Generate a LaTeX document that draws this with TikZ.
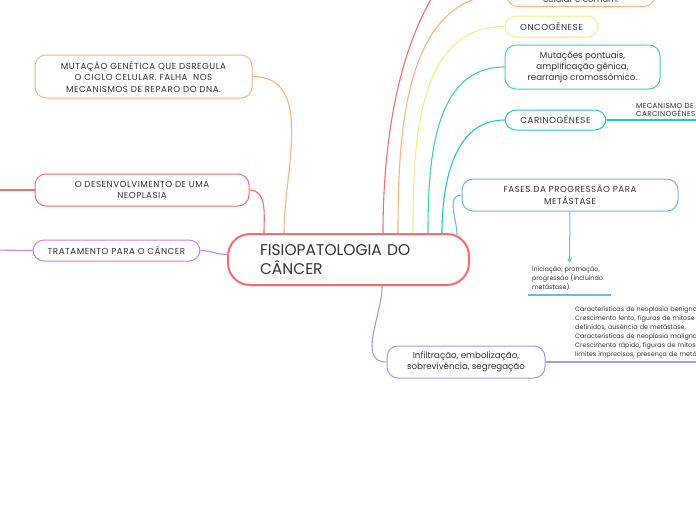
\documentclass[tikz,border=0pt]{standalone}
\usepackage{fontspec}
\setmainfont{Poppins}
\usetikzlibrary{arrows.meta}
\definecolor{Ink}{HTML}{333333}
\definecolor{Coral}{HTML}{FF6B6B}
\definecolor{Apricot}{HTML}{FFB27D}
\definecolor{Lemon}{HTML}{F8EC7E}
\definecolor{Mint}{HTML}{3ED8A4}
\definecolor{Aqua}{HTML}{1CC8D6}
\definecolor{Sky}{HTML}{6CB6F8}
\definecolor{Orchid}{HTML}{C682EE}
\definecolor{Lavender}{HTML}{A298F6}
\tikzset{
  core/.style={
    draw=Coral, line width=2pt, rounded corners=22pt, fill=white,
    text width=177pt, inner xsep=32pt, minimum height=51pt, align=left,
    text=Ink, font=\fontsize{15.5}{18.5}\selectfont
  },
  branch/.style={
    draw, line width=1pt, rounded corners=11pt, fill=white, align=center,
    inner sep=0pt, text=Ink,
    font=\fontsize{8.7}{11.5}\selectfont\addfontfeature{LetterSpace=6}
  },
  plain/.style={font=\fontsize{8.7}{11}\selectfont},
  leaf/.style={
    align=left, inner sep=0pt, text=Ink, font=\fontsize{6.4}{9}\selectfont
  },
  link/.style={line width=1.1pt},
  tip/.style={-{Triangle[length=4pt,width=4.5pt]}, line width=1pt}
}
\begin{document}
\begin{tikzpicture}[x=1pt,y=-1pt]
  \useasboundingbox[fill=white] (0,0) rectangle (696,520);
  % main topic
  \node[core] (core) at (348.5,259.5) {FISIOPATOLOGIA DO\\CÂNCER};
  % left side
  \node[branch,draw=Apricot,minimum width=217pt,minimum height=43pt] (mutacao) at (143.5,76.5)
    {MUTAÇÃO GENÉTICA QUE DSREGULA\\O CICLO CELULAR. FALHA~ NOS\\ MECANISMOS DE REPARO DO DNA.};
  \node[branch,draw=Coral,minimum width=214pt,minimum height=32pt] (neoplasia) at (142,190)
    {O DESENVOLVIMENTO DE UMA\\NEOPLASIA};
  \node[branch,draw=Orchid,minimum width=167pt,minimum height=21pt] (tratamento) at (116.5,250.5)
    {TRATAMENTO PARA O CÂNCER};
  \coordinate (neoend) at (-10,190);
  \coordinate (tratend) at (-10,250);
  % right side
  \coordinate (redend) at (560,-80);
  \node[branch,plain,draw=Apricot,minimum width=148pt,inner ysep=4pt,anchor=south] (celular) at (581,7)
    {Proliferação\\celular é comum.};
  \node[branch,draw=Lemon,minimum width=93pt,minimum height=21pt] (onco) at (551.5,26.5)
    {ONCOGÊNESE};
  \node[branch,plain,draw=Mint,minimum width=155pt,minimum height=44pt] (pontuais) at (582.5,67)
    {Mutações pontuais,\\amplificação gênica,\\rearranjo cromossômico.};
  \node[branch,draw=Aqua,minimum width=101pt,minimum height=20pt] (carino) at (555.5,120)
    {CARINOGÊNESE};
  \coordinate (carinoend) at (700,120);
  \node[leaf,anchor=south west,inner ysep=2pt,
    font=\fontsize{7.2}{8.5}\selectfont\addfontfeature{LetterSpace=5}] (mecanismo) at (636,119)
    {MECANISMO DE\\CARCINOGÊNESE};
  \node[branch,draw=Sky,minimum width=216pt,minimum height=32pt] (fases) at (570,195)
    {FASES DA PROGRESSÃO PARA\\METÁSTASE};
  \node[leaf,text width=75pt,inner xsep=4pt,inner ysep=4pt,anchor=south] (etapas) at (569.5,295)
    {Iniciação, promoção,\\progressão (incluindo\\metástase).};
  \node[branch,plain,draw=Lavender,minimum width=158pt,minimum height=32pt] (infiltra) at (466,362)
    {Infiltração, embolização,\\sobrevivência, segregação};
  \node[leaf,text width=220pt,inner xsep=10pt,inner ysep=4pt,anchor=south west] (neoplasias) at (565,362)
    {Características de neoplasia benigna:\\
     Crescimento lento, figuras de mitose raras, limites bem\\
     definidos, ausência de metástase.\\
     Características de neoplasia maligna:\\
     Crescimento rápido, figuras de mitose frequentes,\\
     limites imprecisos, presença de metástase.};
  % connectors
  \draw[link,Apricot] ([xshift=-64.5pt]core.north) to[out=90,in=0] (mutacao.east);
  \draw[link,Coral] ([xshift=-84.5pt]core.north) to[out=90,in=0] (neoplasia.east);
  \draw[link,Coral] (neoplasia.west) -- (neoend);
  \draw[link,Orchid] ([yshift=5pt]core.west) to[out=180,in=0] (tratamento.east);
  \draw[link,Orchid] (tratamento.west) -- (tratend);
  \draw[link,Coral] ([xshift=34.5pt]core.north) to[out=90,in=180] (redend);
  \draw[link,Apricot] ([xshift=49.5pt]core.north) to[out=90,in=180] (celular.west);
  \draw[link,Lemon] ([xshift=64.5pt]core.north) to[out=90,in=180] (onco.west);
  \draw[link,Mint] ([xshift=79.5pt]core.north) to[out=90,in=180] (pontuais.west);
  \draw[link,Aqua] ([xshift=93.5pt]core.north) to[out=90,in=180] (carino.west);
  \draw[link,Aqua] (carino.east) -- (carinoend);
  \draw[link,Sky] ([xshift=108.5pt,yshift=-2pt]core.north) to[out=90,in=180] (fases.west);
  \draw[tip,Sky] (fases.south) -- (etapas.north);
  \draw[link,Sky] (etapas.south west) -- (etapas.south east);
  \draw[link,Lavender] ([xshift=33.5pt]core.south) to[out=270,in=180] (infiltra.west);
  \draw[link,Lavender] (infiltra.east) -- (neoplasias.south west) -- (neoplasias.south east);
\end{tikzpicture}
\end{document}
